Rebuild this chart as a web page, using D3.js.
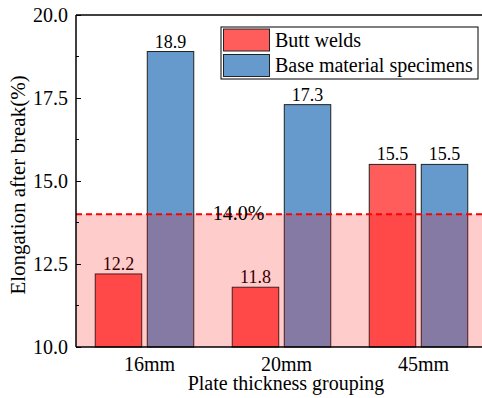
<!DOCTYPE html>
<html>
<head>
<meta charset="utf-8">
<title>Elongation after break</title>
<style>
  body { margin: 0; background: #fff; }
  svg text { font-family: "Times New Roman", Times, "Liberation Serif", "DejaVu Serif", serif !important; fill: #000; }
  .axis path, .axis line { stroke: #000; }
</style>
</head>
<body>
<div id="chart"></div>
<script src="https://d3js.org/d3.v7.min.js"></script>
<script>
const categories = ['16mm', '20mm', '45mm'];
const series = ['Butt welds', 'Base material specimens'];
const buttWelds = [12.2, 11.8, 15.5];
const baseMaterial = [18.9, 17.3, 15.5];
const yTicks = [10, 12.5, 15, 17.5, 20];
const limitValue = 14.0;
const colors = ['#ff5c5c', '#6699cc'];

const w = 482, h = 398;
const margin = {left: 76, top: 15, right: -5, bottom: 51};

const svg = d3.select('#chart').append('svg')
  .attr('width', w).attr('height', h);

const x = d3.scaleBand()
  .domain(categories)
  .range([margin.left, 487])
  .paddingInner(0.281).paddingOuter(0.1405);

const inner = d3.scaleBand()
  .domain(series)
  .range([0, x.bandwidth()])
  .paddingInner(0.107);

const y = d3.scaleLinear()
  .domain([10, 20])
  .range([h - margin.bottom, margin.top]);

const rows = categories.map((c, i) => ({cat: c, vals: [buttWelds[i], baseMaterial[i]]}));

// bars
const groups = svg.selectAll('g.grp')
  .data(rows).enter().append('g')
  .attr('class', 'grp')
  .attr('transform', d => 'translate(' + x(d.cat) + ',0)');

groups.selectAll('rect')
  .data(d => d.vals.map((v, j) => ({s: series[j], v: v, j: j})))
  .enter().append('rect')
  .attr('x', d => inner(d.s))
  .attr('width', inner.bandwidth())
  .attr('y', d => y(d.v))
  .attr('height', d => y(10) - y(d.v))
  .attr('fill', d => colors[d.j])
  .attr('stroke', '#222')
  .attr('stroke-width', 1);

groups.selectAll('text')
  .data(d => d.vals.map((v, j) => ({s: series[j], v: v})))
  .enter().append('text')
  .attr('x', d => inner(d.s) + inner.bandwidth() / 2)
  .attr('y', d => y(d.v) - 4)
  .attr('text-anchor', 'middle')
  .attr('font-size', 18)
  .text(d => d.v.toFixed(1));

// shaded region below the limit
svg.append('rect')
  .attr('x', margin.left)
  .attr('y', y(limitValue))
  .attr('width', w - margin.left)
  .attr('height', y(10) - y(limitValue))
  .attr('fill', '#ff0000')
  .attr('fill-opacity', 0.2);

svg.append('line')
  .attr('x1', margin.left).attr('x2', w)
  .attr('y1', y(limitValue)).attr('y2', y(limitValue))
  .attr('stroke', '#ff0000')
  .attr('stroke-width', 2)
  .attr('stroke-dasharray', '6,4');

svg.append('text')
  .attr('x', 238.5)
  .attr('y', y(limitValue) + 6)
  .attr('text-anchor', 'middle')
  .attr('font-size', 20)
  .text(limitValue.toFixed(1) + '%');

// axes
const yAxis = svg.append('g').attr('class', 'axis')
  .attr('transform', 'translate(' + margin.left + ',0)')
  .call(d3.axisRight(y).tickValues(yTicks).tickSize(5).tickFormat(d3.format('.1f')));
yAxis.selectAll('text')
  .attr('x', -8).attr('text-anchor', 'end')
  .attr('font-size', 20);
yAxis.select('.domain').remove();

svg.append('g').attr('class', 'axis')
  .attr('transform', 'translate(' + margin.left + ',0)')
  .selectAll('line')
  .data(d3.range(11.25, 20, 2.5))
  .enter().append('line')
  .attr('x1', 0).attr('x2', 3)
  .attr('y1', d => y(d)).attr('y2', d => y(d))
  .attr('stroke', '#000');

// frame lines
svg.append('line').attr('x1', margin.left).attr('x2', margin.left)
  .attr('y1', y(20)).attr('y2', y(10)).attr('stroke', '#000').attr('stroke-width', 1.5);
svg.append('line').attr('x1', margin.left).attr('x2', w)
  .attr('y1', y(10)).attr('y2', y(10)).attr('stroke', '#000').attr('stroke-width', 1.5);
svg.append('line').attr('x1', margin.left).attr('x2', w)
  .attr('y1', y(20)).attr('y2', y(20)).attr('stroke', '#000').attr('stroke-width', 1.5);

const xAxis = svg.append('g').attr('class', 'axis')
  .attr('transform', 'translate(0,' + y(10) + ')')
  .call(d3.axisBottom(x).tickSize(0).tickPadding(10));
xAxis.select('.domain').remove();
xAxis.selectAll('text')
  .attr('dx', 5)
  .attr('font-size', 20);

svg.append('text')
  .attr('x', 286).attr('y', 390)
  .attr('text-anchor', 'middle')
  .attr('font-size', 20)
  .text('Plate thickness grouping');

svg.append('text')
  .attr('transform', 'translate(25,185) rotate(-90)')
  .attr('text-anchor', 'middle')
  .attr('font-size', 21)
  .text('Elongation after break(%)');

// legend
const legend = svg.append('g').attr('transform', 'translate(221,27)');
legend.append('rect')
  .attr('x', 0).attr('y', 0).attr('width', 257).attr('height', 52)
  .attr('fill', '#fff').attr('stroke', '#000');
legend.selectAll('rect.sw')
  .data(series).enter().append('rect')
  .attr('class', 'sw')
  .attr('x', 2.5).attr('y', (d, i) => 2 + i * 25.5)
  .attr('width', 46).attr('height', 22)
  .attr('fill', (d, i) => colors[i])
  .attr('stroke', '#222');
legend.selectAll('text')
  .data(series).enter().append('text')
  .attr('x', 54).attr('y', (d, i) => 20 + i * 25)
  .attr('font-size', 20)
  .text(d => d);
</script>
</body>
</html>
